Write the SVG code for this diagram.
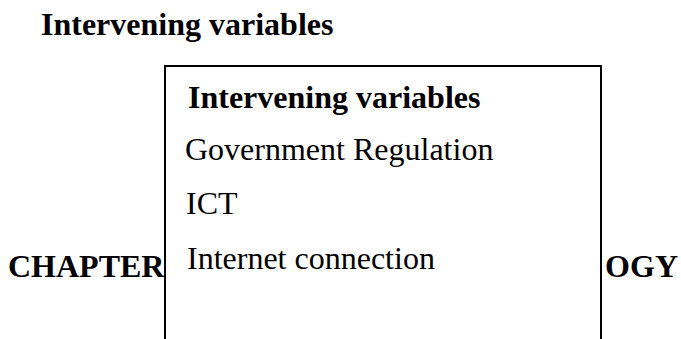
<svg xmlns="http://www.w3.org/2000/svg" width="681" height="339" viewBox="0 0 681 339">
<style>
.b{font-family:"Liberation Serif","Times New Roman",serif;font-weight:bold;font-size:32px;fill:#000}
.r{font-family:"Liberation Serif","Times New Roman",serif;font-size:32px;fill:#000}
</style>
<rect x="0" y="0" width="681" height="339" fill="#fff"/>
<g id="heading"><text class="b" x="41" y="35">Intervening variables</text></g>
<g id="chapter">
<text class="b" x="8" y="277">CHAPTER</text>
<text class="b" x="678" y="277" text-anchor="end">OGY</text>
</g>
<g id="box">
<rect x="165" y="66" width="436" height="300" fill="#fff" stroke="#000" stroke-width="2"/>
<text class="b" x="188" y="108">Intervening variables</text>
<text class="r" x="185" y="160">Government Regulation</text>
<text class="r" x="186" y="214">ICT</text>
<text class="r" x="187" y="269">Internet connection</text>
</g>
<g id="connectors"></g>
</svg>
